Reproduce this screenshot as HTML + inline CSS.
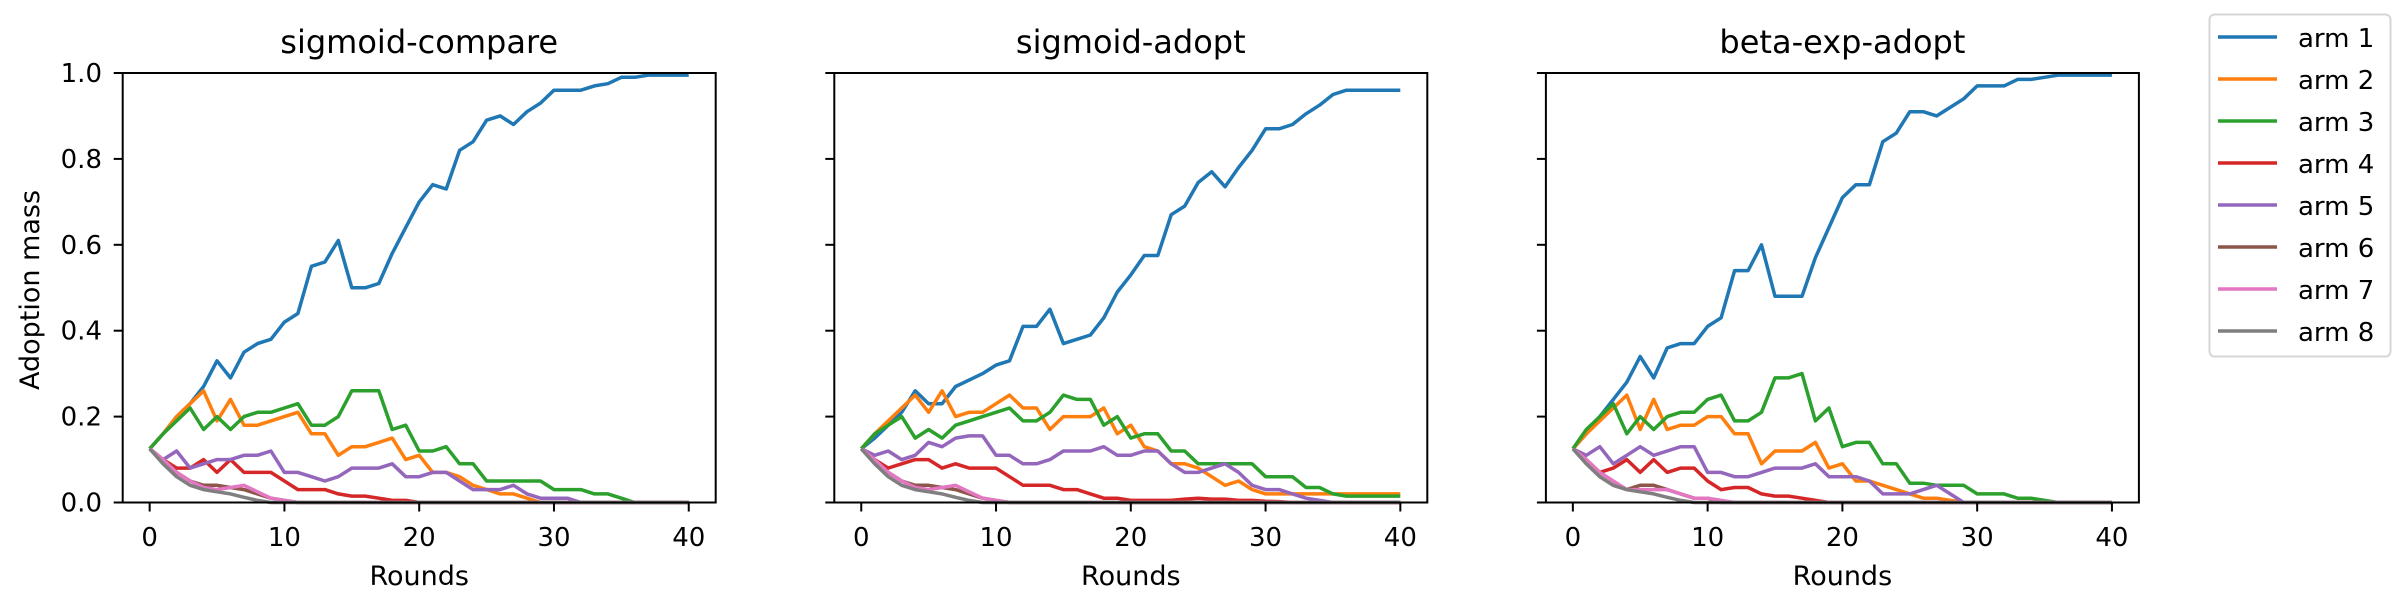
<!DOCTYPE html>
<html><head><meta charset="utf-8"><style>
html,body{margin:0;padding:0;background:#fff;}
svg{display:block;font-family:"DejaVu Sans","Liberation Sans",sans-serif;}
</style></head><body>
<svg id="s" width="2404" height="611" xmlns="http://www.w3.org/2000/svg"></svg>
<script>
const C=["#1f77b4","#ff7f0e","#2ca02c","#d62728","#9467bd","#8c564b","#e377c2","#7f7f7f"];
function pad(a){while(a.length<41)a.push(a[a.length-1]);return a;}
const small6=[.125,.1,.07,.05,.04,.04,.035,.03,.02,.01,.005,0];
const small7=[.125,.1,.07,.05,.035,.03,.035,.04,.025,.01,.005,0];
const small8=[.125,.09,.06,.04,.03,.025,.02,.012,.005,0];
const D=[
[
[.125,.16,.2,.23,.27,.33,.29,.35,.37,.38,.42,.44,.55,.56,.61,.50,.50,.51,.58,.64,.70,.74,.73,.82,.84,.89,.90,.88,.91,.93,.96,.96,.96,.97,.975,.99,.99,.995,.995,.995,.995],
[.125,.16,.2,.23,.26,.19,.24,.18,.18,.19,.2,.21,.16,.16,.11,.13,.13,.14,.15,.10,.11,.07,.07,.06,.04,.03,.02,.02,.01,0],
[.125,.16,.19,.22,.17,.2,.17,.2,.21,.21,.22,.23,.18,.18,.2,.26,.26,.26,.17,.18,.12,.12,.13,.09,.09,.05,.05,.05,.05,.05,.03,.03,.03,.02,.02,.01,0],
[.125,.1,.08,.08,.1,.07,.1,.07,.07,.07,.05,.03,.03,.03,.02,.015,.015,.01,.005,.005,0],
[.125,.10,.12,.08,.09,.1,.1,.11,.11,.12,.07,.07,.06,.05,.06,.08,.08,.08,.09,.06,.06,.07,.07,.05,.03,.03,.03,.04,.02,.01,.01,.01,0],
small6,small7,small8],
[
[.125,.15,.18,.21,.26,.23,.23,.27,.285,.30,.32,.33,.41,.41,.45,.37,.38,.39,.43,.49,.53,.575,.575,.67,.69,.745,.77,.735,.78,.82,.87,.87,.88,.905,.925,.95,.96,.96,.96,.96,.96],
[.125,.16,.19,.22,.25,.21,.26,.2,.21,.21,.23,.25,.22,.22,.17,.2,.2,.2,.22,.16,.18,.13,.12,.09,.09,.08,.06,.04,.05,.03,.02,.02,.02,.02,.02,.02,.02,.02,.02,.02,.02],
[.125,.16,.18,.2,.15,.17,.15,.18,.19,.2,.21,.22,.19,.19,.21,.25,.24,.24,.18,.2,.15,.16,.16,.12,.12,.09,.09,.09,.09,.09,.06,.06,.06,.035,.035,.02,.015,.015,.015,.015,.015],
[.125,.1,.08,.09,.1,.1,.08,.09,.08,.08,.08,.06,.04,.04,.04,.03,.03,.02,.01,.01,.005,.005,.005,.005,.008,.01,.008,.008,.005,.005,.003,.002,0],
[.125,.11,.12,.1,.11,.14,.13,.15,.155,.155,.11,.11,.09,.09,.1,.12,.12,.12,.13,.11,.11,.12,.12,.09,.07,.07,.08,.09,.07,.04,.03,.03,.02,.01,.005,0],
small6,small7,small8],
[
[.125,.16,.2,.24,.28,.34,.29,.36,.37,.37,.41,.43,.54,.54,.6,.48,.48,.48,.57,.64,.71,.74,.74,.84,.86,.91,.91,.90,.92,.94,.97,.97,.97,.985,.985,.99,.995,.995,.995,.995,.995],
[.125,.16,.19,.22,.25,.17,.24,.17,.18,.18,.2,.2,.16,.16,.09,.12,.12,.12,.14,.08,.09,.05,.05,.04,.03,.02,.01,.01,.005,0],
[.125,.17,.2,.23,.16,.2,.17,.2,.21,.21,.24,.25,.19,.19,.21,.29,.29,.3,.19,.22,.13,.14,.14,.09,.09,.045,.045,.04,.04,.04,.02,.02,.02,.01,.01,.005,0],
[.125,.1,.07,.08,.1,.07,.1,.07,.08,.08,.05,.03,.035,.035,.02,.015,.015,.01,.005,0],
[.125,.11,.13,.09,.11,.13,.11,.12,.13,.13,.07,.07,.06,.06,.07,.08,.08,.08,.09,.06,.06,.06,.05,.02,.02,.02,.03,.04,.02,0],
[.125,.1,.06,.04,.03,.04,.04,.03,.02,.01,.01,0],
[.125,.1,.07,.05,.03,.03,.03,.03,.02,.01,.01,.005,0],
small8]
];
const titles=["sigmoid-compare","sigmoid-adopt","beta-exp-adopt"];
let h="";
const T=73,B=502.5,W=593;
for(let p=0;p<3;p++){
  const L=122.7+p*711.6;
  const X=r=>L+(r+2)/44*W, Y=v=>B-v*(B-T);
  h+=`<text x="${L+W/2}" y="53" font-size="32" text-anchor="middle">${titles[p]}</text>`;
  for(let a=0;a<8;a++){
    const d=pad(D[p][a].slice());
    h+=`<polyline fill="none" stroke="${C[a]}" stroke-width="3.5" stroke-linejoin="round" points="${d.map((v,i)=>X(i).toFixed(1)+","+Y(v).toFixed(1)).join(" ")}"/>`;
  }
  h+=`<rect x="${L}" y="${T}" width="${W}" height="${B-T}" fill="none" stroke="#000" stroke-width="2"/>`;
  for(let k=0;k<=4;k++){
    const x=X(k*10);
    h+=`<line x1="${x}" y1="${B}" x2="${x}" y2="${B+9}" stroke="#000" stroke-width="2"/>`;
    h+=`<text x="${x}" y="546" font-size="26" text-anchor="middle">${k*10}</text>`;
  }
  for(let k=0;k<=5;k++){
    const y=Y(k*.2);
    h+=`<line x1="${L-9}" y1="${y}" x2="${L}" y2="${y}" stroke="#000" stroke-width="2"/>`;
    if(p==0)h+=`<text x="102" y="${y+9}" font-size="26" text-anchor="end">${(k*.2).toFixed(1)}</text>`;
  }
  h+=`<text x="${L+W/2}" y="585" font-size="27" text-anchor="middle">Rounds</text>`;
}
h+=`<text transform="translate(30,290) rotate(-90)" font-size="27" text-anchor="middle" dy="9">Adoption mass</text>`;
h+=`<rect x="2209.5" y="14.5" width="181" height="342" rx="5" fill="#fff" stroke="#d6d6d6" stroke-width="2"/>`;
for(let a=0;a<8;a++){
  const y=37+a*42;
  h+=`<line x1="2218" y1="${y}" x2="2277" y2="${y}" stroke="${C[a]}" stroke-width="3.5"/>`;
  h+=`<text x="2298" y="${y+10}" font-size="26">arm ${a+1}</text>`;
}
document.getElementById("s").innerHTML=h;
</script>
</body></html>
